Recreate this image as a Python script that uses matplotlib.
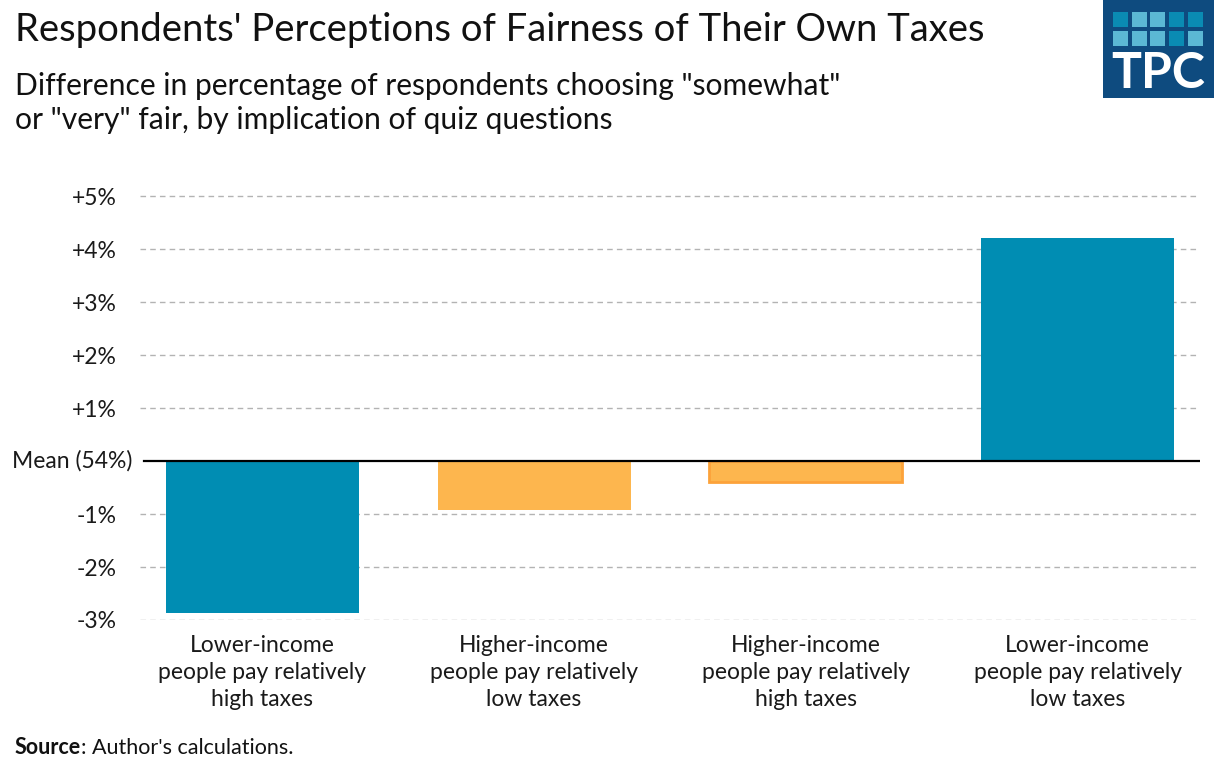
import numpy as np
import matplotlib.pyplot as plt
import matplotlib.transforms as mtransforms
from matplotlib.patches import Rectangle

plt.rcParams['font.family'] = ['Lato', 'DejaVu Sans']

categories = ['Lower-income\npeople pay relatively\nhigh taxes',
              'Higher-income\npeople pay relatively\nlow taxes',
              'Higher-income\npeople pay relatively\nhigh taxes',
              'Lower-income\npeople pay relatively\nlow taxes']
values = [-2.87, -0.93, -0.40, 4.21]
colors = ['#008db3', '#fdb64e', '#fdb64e', '#008db3']
edges = ['none', 'none', '#fca23a', 'none']
yticks = [-3, -2, -1, 0, 1, 2, 3, 4, 5]
ytick_labels = ['-3%', '-2%', '-1%', '', '+1%', '+2%', '+3%', '+4%', '+5%']
mean_label = 'Mean (54%)'

fig = plt.figure(figsize=(12.14, 7.70), dpi=100)
ax = fig.add_axes([140 / 1214, 1 - 620 / 770, 1060 / 1214, (620 - 190) / 770])

x = np.arange(len(categories))
for i in range(len(values)):
    ax.bar(x[i], values[i], width=0.71, color=colors[i], edgecolor=edges[i],
           linewidth=2 if edges[i] != 'none' else 0, zorder=3)

ax.set_xlim(-0.45, 3.45)
ax.set_ylim(-3, 5.12)
ax.set_yticks(yticks)
ax.set_yticklabels(ytick_labels, fontsize=16.5, color='#1a1a1a')
ax.set_xticks(x)
ax.set_xticklabels(categories, fontsize=16.5, color='#1a1a1a', linespacing=1.35)
ax.tick_params(axis='y', length=0, pad=17)
ax.tick_params(axis='x', length=0, pad=11)
# the mean label sits a little closer to the axis than the others
trans = mtransforms.blended_transform_factory(ax.transAxes, ax.transData)
ax.text(-8 / 1060, 0, mean_label, transform=trans, ha='right', va='center',
        fontsize=16.5, color='#1a1a1a')
for t in yticks:
    if t != 0:
        ax.axhline(t, color='#b3b3b3', linestyle=(0, (4, 3)), linewidth=1, zorder=1)
ax.axhline(0, xmin=4 / 1060, color='black', linewidth=1.6, zorder=4)
for s in ax.spines.values():
    s.set_visible(False)

fig.text(15 / 1214, 1 - 30 / 770, "Respondents' Perceptions of Fairness of Their Own Taxes",
         fontsize=27.5, va='center', ha='left', color='#111111')
fig.text(15 / 1214, 1 - 103 / 770,
         'Difference in percentage of respondents choosing "somewhat"\nor "very" fair, by implication of quiz questions',
         fontsize=21.6, va='center', ha='left', color='#111111', linespacing=1.28)
src = fig.text(15 / 1214, 1 - 748 / 770, 'Source', fontsize=15.5, fontweight='bold',
               va='center', ha='left', color='#111111')
fig.canvas.draw()
bb = src.get_window_extent().transformed(fig.transFigure.inverted())
fig.text(bb.x1, 1 - 748 / 770, ": Author's calculations.", fontsize=15.5,
         va='center', ha='left', color='#111111')

# TPC logo
lx0, ly0, lw, lh = 1103 / 1214, 1 - 98 / 770, 111 / 1214, 98 / 770
fig.patches.append(Rectangle((lx0, ly0), lw, lh, transform=fig.transFigure,
                             facecolor='#0e4b7f', edgecolor='none'))
sq = 15
shades = [['#0a8bb3', '#5bb8d4', '#5bb8d4', '#0a8bb3', '#0a8bb3'],
          ['#5bb8d4', '#5bb8d4', '#5bb8d4', '#0a8bb3', '#5bb8d4']]
for r in range(2):
    for c in range(5):
        px = 1113 + c * 18.7
        py = 12 + r * 19
        fig.patches.append(Rectangle((px / 1214, 1 - (py + sq) / 770), sq / 1214, sq / 770,
                                     transform=fig.transFigure, facecolor=shades[r][c],
                                     edgecolor='none'))
fig.text(1158 / 1214, 1 - 73 / 770, 'TPC', fontsize=36, fontweight='bold', color='white',
         ha='center', va='center')

fig.savefig('out.png', dpi=100)
